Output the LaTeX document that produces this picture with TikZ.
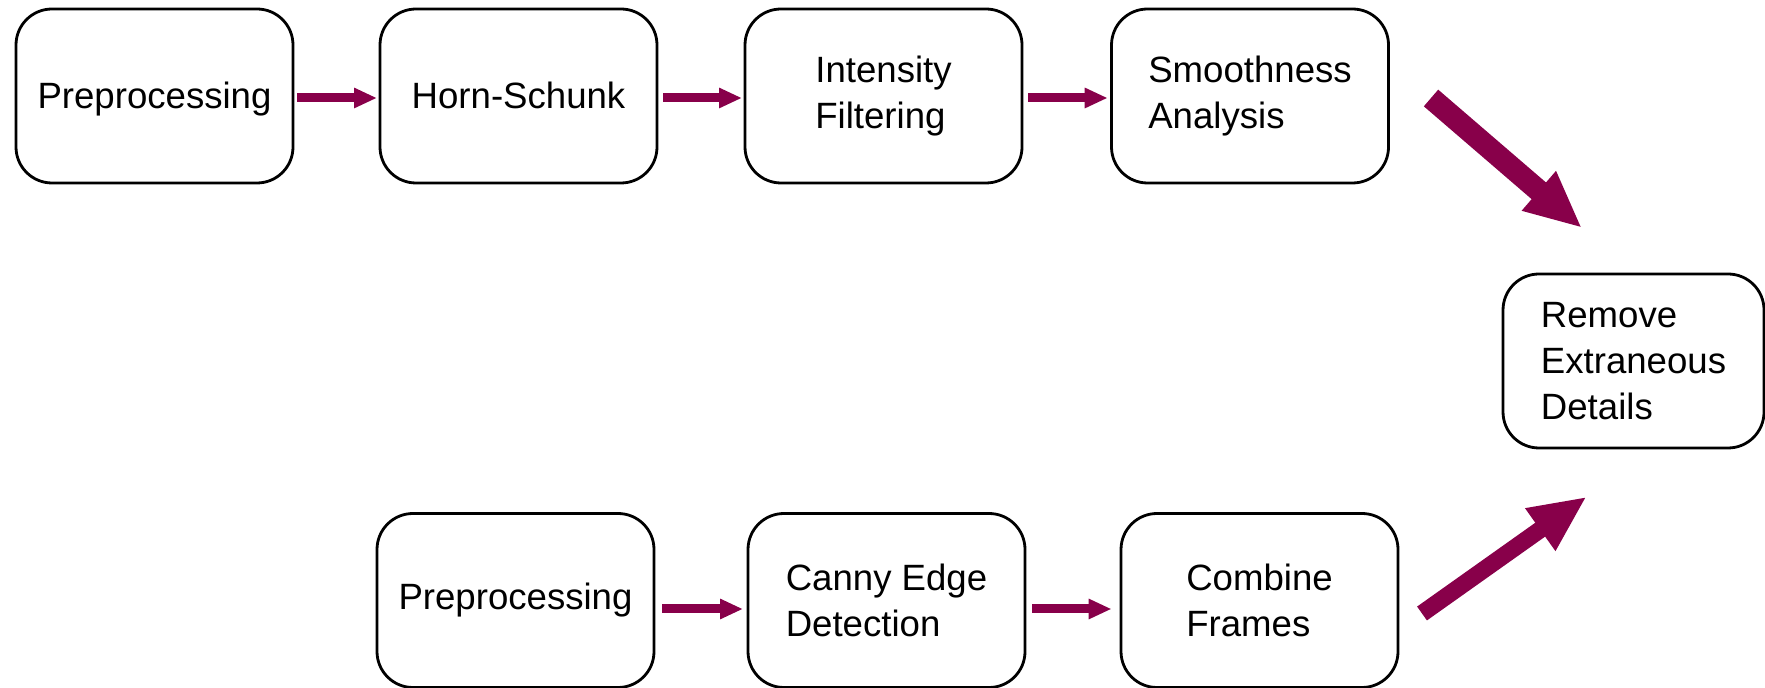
\documentclass[tikz,border=0pt]{standalone}
\usepackage{fontspec}
\setmainfont{Liberation Sans}
\usetikzlibrary{arrows.meta}
\definecolor{arrowc}{RGB}{136,0,74}
\newcommand{\lowline}[1]{\raisebox{-1.5pt}[\height][\depth]{\strut #1}}
\begin{document}
\begin{tikzpicture}[x=0.5pt,y=-0.5pt,
  stage/.style={draw=black, line width=1.4pt, rounded corners=18pt,
    minimum width=138.5pt, minimum height=87pt, inner sep=0pt, align=left,
    font=\fontsize{18.3pt}{23pt}\selectfont},
  flow/.style={draw=arrowc, line width=4.5pt, -{Triangle[length=11.5pt,width=9.5pt]}},
  bigflow/.style={draw=arrowc, -{Triangle[length=28.5pt,width=24pt]}}]
\clip (0,0) rectangle (1765,688);
\fill[white] (0,0) rectangle (1765,688);
% top row
\node[stage] (p1) at (154.5,96) {\lowline{Preprocessing}};
\node[stage] (hs) at (518.5,96) {\lowline{Horn-Schunk}};
\node[stage] (if) at (883.5,96) {Intensity\\Filtering};
\node[stage] (sa) at (1250,96) {Smoothness\\Analysis};
% right
\node[stage, minimum width=130.5pt] (rd) at (1633.5,361) {Remove\\Extraneous\\Details};
% bottom row
\node[stage] (p2) at (515.5,600.5) {\strut Preprocessing};
\node[stage] (ce) at (886.5,600.5) {Canny Edge\\Detection};
\node[stage] (cf) at (1259.5,600.5) {Combine\\Frames};
% small arrows
\draw[flow] ([xshift=1.2pt,yshift=-1pt]p1.east) -- ([xshift=-0.8pt,yshift=-1pt]hs.west);
\draw[flow] ([xshift=2.5pt,yshift=-1pt]hs.east) -- ([xshift=-0.8pt,yshift=-1pt]if.west);
\draw[flow] ([xshift=2.5pt,yshift=-1pt]if.east) -- ([xshift=-1.2pt,yshift=-1pt]sa.west);
\draw[flow] ([xshift=3.5pt,yshift=-4.25pt]p2.east) -- ([xshift=-1.8pt,yshift=-4.25pt]ce.west);
\draw[flow] ([xshift=3pt,yshift=-4.25pt]ce.east) -- ([xshift=-4pt,yshift=-4.25pt]cf.west);
% big arrows
\coordinate (t1) at (1431,98);
\coordinate (h1) at (1582,228);
\coordinate (t2) at (1422,613.5);
\coordinate (h2) at (1586.7,496.7);
\draw[bigflow, line width=11pt] (t1) -- (h1);
\draw[bigflow, line width=8.5pt] (t2) -- (h2);
\end{tikzpicture}
\end{document}
